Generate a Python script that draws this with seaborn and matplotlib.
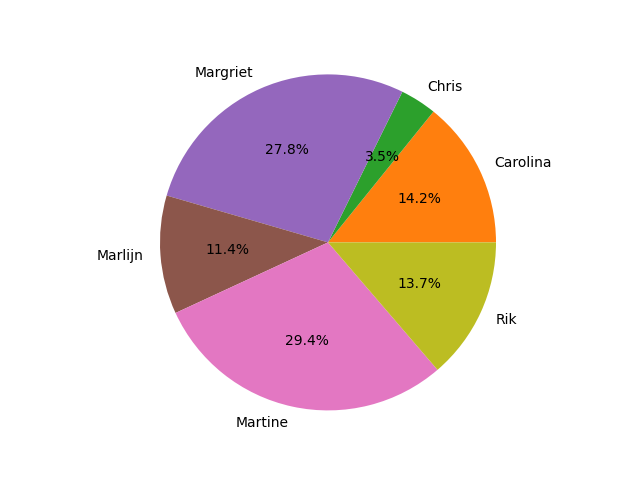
import matplotlib
matplotlib.use("Agg")
import matplotlib.pyplot as plt
import seaborn as sns

# data
names = ['Carolina', 'Chris', 'Margriet', 'Marlijn', 'Martine', 'Rik']
shares = [14.2, 3.5, 27.8, 11.4, 29.4, 13.7]

palette = sns.color_palette('tab10')
colors = [palette[i] for i in [1, 2, 4, 5, 6, 8]]

fig, ax = plt.subplots(figsize=(6.4, 4.8), dpi=100)
ax.pie(shares, labels=names, colors=colors, autopct='%1.1f%%')
ax.set_xlim(-1.1, 1.1)
ax.set_ylim(-1.1, 1.1)
fig.savefig('out.png')
